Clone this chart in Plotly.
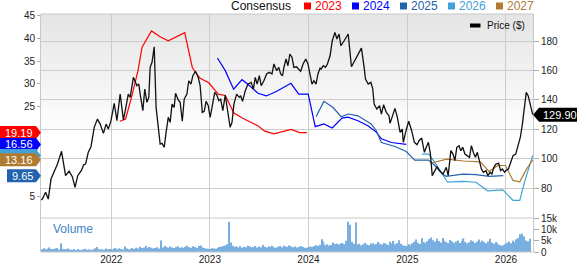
import plotly.graph_objects as go
import pandas as pd

# ---------------- data ----------------
price_dates = [
    "2021-04-17", "2021-04-21", "2021-05-03", "2021-05-13", "2021-05-23", "2021-06-04", "2021-06-16",
    "2021-07-01", "2021-07-16", "2021-07-29", "2021-08-10", "2021-08-20", "2021-08-30", "2021-09-13",
    "2021-09-21", "2021-09-28", "2021-10-08", "2021-10-18", "2021-10-30", "2021-11-11", "2021-11-21",
    "2021-12-03", "2021-12-13", "2021-12-21", "2021-12-31", "2022-01-12", "2022-01-22", "2022-02-03",
    "2022-02-15", "2022-02-23", "2022-03-05", "2022-03-12", "2022-03-24", "2022-04-06", "2022-04-13",
    "2022-04-18", "2022-04-28", "2022-05-05", "2022-05-13", "2022-05-20", "2022-05-25", "2022-06-01",
    "2022-06-09", "2022-06-16", "2022-06-24", "2022-07-01", "2022-07-08", "2022-07-16", "2022-07-23",
    "2022-07-31", "2022-08-07", "2022-08-14", "2022-08-22", "2022-08-27", "2022-09-06", "2022-09-13",
    "2022-09-21", "2022-09-28", "2022-10-08", "2022-10-15", "2022-10-23", "2022-10-30", "2022-11-09",
    "2022-11-19", "2022-11-26", "2022-12-04", "2022-12-11", "2022-12-18", "2022-12-26", "2023-01-02",
    "2023-01-09", "2023-01-19", "2023-01-27", "2023-02-03", "2023-02-10", "2023-02-18", "2023-02-27",
    "2023-03-07", "2023-03-17", "2023-03-24", "2023-03-31", "2023-04-10", "2023-04-20", "2023-04-25",
    "2023-05-02", "2023-05-12", "2023-05-22", "2023-06-03", "2023-06-11", "2023-06-18", "2023-06-25",
    "2023-07-03", "2023-07-10", "2023-07-20", "2023-07-30", "2023-08-09", "2023-08-19", "2023-08-26",
    "2023-09-05", "2023-09-13", "2023-09-20", "2023-09-27", "2023-10-02", "2023-10-10", "2023-10-17",
    "2023-10-24", "2023-11-01", "2023-11-08", "2023-11-18", "2023-11-25", "2023-12-03", "2023-12-12",
    "2023-12-22", "2023-12-30", "2024-01-06", "2024-01-14", "2024-01-21", "2024-01-29", "2024-02-05",
    "2024-02-13", "2024-02-17", "2024-02-25", "2024-03-04", "2024-03-11", "2024-03-21", "2024-03-29",
    "2024-04-08", "2024-04-15", "2024-04-23", "2024-04-30", "2024-05-12", "2024-05-27", "2024-06-08",
    "2024-06-23", "2024-07-05", "2024-07-15", "2024-07-25", "2024-07-30", "2024-08-09", "2024-08-19",
    "2024-08-26", "2024-08-31", "2024-09-10", "2024-09-20", "2024-09-27", "2024-10-05", "2024-10-15",
    "2024-10-25", "2024-10-29", "2024-11-08", "2024-11-16", "2024-11-25", "2024-12-05", "2024-12-13",
    "2024-12-17", "2024-12-27", "2025-01-06", "2025-01-17", "2025-01-27", "2025-02-06", "2025-02-13",
    "2025-02-23", "2025-03-05", "2025-03-12", "2025-03-20", "2025-03-27", "2025-04-03", "2025-04-13",
    "2025-04-20", "2025-04-30", "2025-05-13", "2025-05-25", "2025-06-01", "2025-06-11", "2025-06-19",
    "2025-06-26", "2025-07-03", "2025-07-11", "2025-07-18", "2025-07-25", "2025-08-02", "2025-08-19",
    "2025-08-26", "2025-09-02", "2025-09-10", "2025-09-17", "2025-09-24", "2025-10-02", "2025-10-09",
    "2025-10-19", "2025-10-26", "2025-11-03", "2025-11-10", "2025-11-17", "2025-11-25", "2025-12-05",
    "2025-12-12", "2025-12-19", "2025-12-27", "2026-01-03", "2026-01-10", "2026-01-19", "2026-01-27",
    "2026-02-06", "2026-02-13", "2026-02-23", "2026-03-02", "2026-03-09", "2026-03-17", "2026-03-24",
    "2026-04-03", "2026-04-10",
]
price_values = [
    71.8, 72.5, 77.1, 72.5, 86.1, 90.7, 96.3,
    105.0, 88.4, 91.4, 87.7, 80.5, 88.4, 92.2,
    95.8, 96.3, 104.3, 108.1, 121.3, 126.9, 123.5,
    117.2, 123.5, 120.1, 125.8, 137.6, 125.8, 143.9,
    126.3, 133.7, 143.9, 141.7, 155.3, 149.6, 150.7,
    143.9, 132.6, 147.3, 138.3, 141.7, 162.1, 165.5,
    176.1, 134.9, 123.5, 109.9, 110.4, 107.7, 117.9,
    128.1, 124.7, 137.1, 134.9, 144.4, 139.9, 138.3,
    125.4, 140.5, 143.9, 153.0, 150.7, 156.4, 159.4,
    155.3, 149.6, 131.5, 132.2, 139.0, 136.0, 128.1,
    134.9, 145.1, 143.3, 139.4, 140.5, 132.6, 143.3,
    132.6, 121.3, 124.7, 137.1, 143.9, 141.7, 142.8,
    139.0, 146.2, 150.7, 151.9, 147.3, 155.3, 150.7,
    156.4, 149.6, 153.0, 157.6, 158.7, 157.6, 164.4,
    159.8, 162.1, 157.6, 156.4, 162.1, 167.8, 163.2,
    171.2, 168.9, 162.1, 162.5, 161.0, 159.4, 164.4,
    167.8, 164.4, 157.6, 150.7, 153.0, 150.7, 157.6,
    161.6, 161.0, 163.2, 162.1, 164.4, 170.0, 180.2,
    185.9, 181.4, 184.8, 176.8, 180.2, 184.8, 162.5,
    167.8, 172.3, 175.2, 162.1, 154.1, 150.7, 151.9,
    147.3, 137.1, 133.7, 136.0, 130.3, 136.7, 131.5,
    129.2, 124.0, 130.3, 134.2, 128.1, 117.9, 120.1,
    111.1, 119.0, 125.4, 119.0, 111.1, 109.5, 112.2,
    114.0, 104.3, 107.7, 111.1, 103.6, 88.4, 91.8,
    94.5, 91.8, 89.5, 94.1, 88.4, 105.4, 103.1,
    98.6, 107.7, 108.8, 105.4, 107.7, 103.1, 100.9,
    108.8, 104.3, 100.9, 104.3, 98.6, 92.9, 90.7,
    91.8, 88.4, 90.7, 89.5, 94.1, 96.3, 96.8,
    91.8, 92.9, 90.7, 92.2, 92.9, 98.6, 102.0,
    103.1, 107.7, 114.5, 122.4, 134.9, 145.1, 142.8,
    134.9, 129.90,
]

c2023_dates = ["2022-02-02", "2022-02-23", "2022-03-17", "2022-04-10", "2022-04-25", "2022-05-30",
               "2022-07-01", "2022-07-31", "2022-09-30", "2022-10-28", "2022-11-08", "2022-11-26",
               "2022-12-28", "2023-02-01", "2023-02-27", "2023-03-31", "2023-05-01", "2023-05-22",
               "2023-06-28", "2023-07-23", "2023-08-26", "2023-10-29", "2023-11-29", "2023-12-26"]
c2023_values = [21.7, 22.2, 27.0, 32.9, 38.1, 41.7, 40.4, 39.5, 41.3, 33.6, 32.6, 31.2,
                30.2, 27.7, 27.4, 23.5, 22.4, 21.8, 20.7, 19.5, 18.9, 19.9, 19.2, 19.19]

c2024_dates = ["2023-01-29", "2023-02-27", "2023-03-30", "2023-04-30", "2023-05-22", "2023-06-28",
               "2023-07-29", "2023-09-04", "2023-10-28", "2023-11-26", "2023-12-31", "2024-01-26",
               "2024-02-27", "2024-03-29", "2024-05-04", "2024-05-26", "2024-07-02", "2024-08-08",
               "2024-09-08", "2024-09-27", "2024-11-03", "2024-12-04", "2024-12-28"]
c2024_values = [35.7, 32.9, 28.8, 30.9, 29.9, 27.9, 27.3, 28.3, 30.1, 27.7, 27.7, 20.5,
                21.1, 20.2, 22.4, 22.6, 21.8, 20.7, 19.3, 17.8, 17.0, 16.7, 16.56]

c2025_dates = ["2024-01-29", "2024-02-27", "2024-03-31", "2024-05-01", "2024-05-27", "2024-07-02",
               "2024-08-20", "2024-09-08", "2024-09-27", "2024-11-16", "2024-12-28", "2025-01-28",
               "2025-03-20", "2025-04-13", "2025-05-10", "2025-05-25", "2025-07-25", "2025-09-12",
               "2025-10-31", "2025-12-22"]
c2025_values = [22.7, 26.1, 24.8, 22.7, 23.3, 22.9, 21.1, 19.6, 17.0, 16.1, 15.0, 13.1,
                13.1, 11.9, 10.0, 9.5, 10.0, 9.9, 9.5, 9.65]

c2026_dates = ["2025-02-24", "2025-03-21", "2025-04-17", "2025-05-30", "2025-07-25", "2025-09-12",
               "2025-10-25", "2025-12-20", "2026-01-27", "2026-02-21", "2026-03-12", "2026-04-10"]
c2026_values = [14.4, 14.4, 12.2, 8.2, 8.4, 8.2, 6.3, 6.5, 4.2, 4.2, 8.5, 14.13]

c2027_dates = ["2025-03-27", "2025-05-27", "2025-07-28", "2025-09-28", "2025-10-30", "2025-12-03",
               "2025-12-30", "2026-01-27", "2026-02-21", "2026-03-18", "2026-04-10"]
c2027_values = [12.4, 13.3, 12.9, 12.7, 10.6, 11.9, 11.9, 8.6, 8.3, 11.1, 13.16]

# weekly volume (thousands), first week starting 2021-04-19
volume_start = "2021-04-19"
volume_k = [
    1.2, 1.6, 1.1, 1.4, 2.0, 1.3, 1.2, 1.5, 1.8, 1.1, 3.9,
    1.4, 1.2, 1.3, 1.5, 1.1, 1.0, 1.3, 0.9, 1.2, 1.0, 0.8, 1.1, 1.4,
    1.0, 1.2, 0.9, 1.1, 1.6, 2.2, 1.3, 1.1, 1.2, 1.0, 1.5, 1.2, 1.3,
    1.1, 1.4, 1.8, 1.2, 1.6, 1.3, 1.1, 2.4, 1.5, 1.2, 1.4, 1.7, 1.3,
    1.9, 1.5, 2.3, 1.8, 2.0, 2.6, 1.7, 2.2, 1.9, 1.6, 1.8, 2.1, 1.5,
    5.1, 2.0, 2.8, 2.2, 1.9, 2.4, 2.0, 1.8, 2.2, 2.5, 1.9, 2.1, 1.7,
    2.3, 2.8, 2.1, 1.9, 2.5, 2.2, 1.8, 2.6, 2.9, 2.0, 1.8, 1.5, 1.4,
    1.3, 1.6, 1.5, 1.4, 1.8, 2.2, 2.4, 2.6, 2.9, 3.4, 13.4, 4.2, 2.8,
    2.2, 2.5, 2.0, 2.6, 1.9, 2.3, 2.1, 2.8, 2.4, 2.0, 2.2, 2.6, 1.9,
    2.4, 2.1, 3.1, 2.3, 2.0, 2.5, 2.2, 2.7, 2.0, 1.9, 2.3, 2.6, 2.1,
    2.8, 2.4, 2.2, 2.9, 2.5, 2.1, 2.4, 2.0, 2.3, 2.7, 2.2, 1.9, 1.8,
    2.0, 2.4, 2.2, 2.6, 3.0, 2.8, 3.2, 5.6, 4.6, 3.0, 3.4, 2.9, 3.1,
    4.2, 3.5, 3.8, 3.2, 3.6, 4.0, 3.4, 5.0, 13.3, 12.0, 4.5, 3.6, 13.0,
    3.2, 3.6, 2.9, 3.4, 4.1, 3.3, 3.0, 3.7, 3.9, 3.2, 3.5, 4.4, 3.6,
    3.3, 4.0, 3.6, 3.1, 4.5, 3.8, 4.9, 3.4, 3.9, 5.2, 3.6, 3.0, 2.6,
    2.8, 3.4, 3.0, 3.8, 4.5, 5.5, 4.1, 3.5, 6.1, 4.4, 3.9, 4.8, 5.7,
    6.4, 5.2, 4.6, 5.9, 4.8, 4.2, 6.2, 5.0, 4.4, 3.9, 5.3, 4.7, 4.1,
    4.6, 5.1, 4.0, 4.8, 6.0, 4.5, 3.8, 4.3, 5.2, 4.7, 4.0, 4.6, 5.5,
    4.3, 5.0, 4.4, 3.9, 4.6, 5.8, 4.2, 3.6, 4.4, 3.8, 3.2, 2.8, 3.0,
    3.4, 4.1, 4.6, 3.9, 5.0, 4.4, 5.6, 6.2, 7.8, 8.0, 6.9, 5.1, 4.6,
    5.8,
]
volume_dates = pd.date_range(volume_start, periods=len(volume_k), freq="7D")

left_ticks = [5, 25, 30, 35, 40, 45]
right_ticks = [80, 100, 120, 140, 160, 180]
vol_ticks = [0, 5, 10, 15]
vol_tick_text = ["0", "5k", "10k", "15k"]

legend_years = ["2023", "2024", "2025", "2026", "2027"]
last_price = 129.90
last_consensus = [("2023", 19.19), ("2024", 16.56), ("2026", 14.13), ("2025", 9.65), ("2027", 13.16)]

# ---------------- styles ----------------
COL = {"2023": "#ff0000", "2024": "#0000ff", "2025": "#2262ae",
       "2026": "#40a2d8", "2027": "#b07a32"}
FONT = "Liberation Sans, Arial, sans-serif"
W, H = 579, 264
ML, MR, MT, MB = 41, 46, 14, 12
PW, PH = W - ML - MR, H - MT - MB


def fx(px):
    return (px - ML) / PW


def fy(py):
    return (H - MB - py) / PH


SPLIT = fy(218)

fig = go.Figure()

fig.add_trace(go.Bar(x=volume_dates, y=volume_k, xaxis="x", yaxis="y3",
                     marker=dict(color="#6aa7dd", line=dict(width=0)), opacity=0.9,
                     hoverinfo="skip"))

for yr, d, v in [("2023", c2023_dates, c2023_values), ("2024", c2024_dates, c2024_values),
                 ("2025", c2025_dates, c2025_values), ("2026", c2026_dates, c2026_values),
                 ("2027", c2027_dates, c2027_values)]:
    fig.add_trace(go.Scatter(x=d, y=v, mode="lines", xaxis="x", yaxis="y",
                             line=dict(color=COL[yr], width=1.2)))

fig.add_trace(go.Scatter(x=price_dates, y=price_values, mode="lines", xaxis="x", yaxis="y2",
                         line=dict(color="#111111", width=1.3)))

shapes = []
# gradient background in upper part
n = 24
for i in range(n):
    g = int(round(229 + (255 - 229) * i / n))
    shapes.append(dict(type="rect", xref="paper", yref="paper", x0=0, x1=1,
                       y0=fy(14 + 5 * (i + 1)), y1=fy(14 + 5 * i),
                       fillcolor=f"rgb({g},{g},{g})", line=dict(width=0), layer="below"))
# frame lines
for py in (14, 218, H - MB):
    shapes.append(dict(type="line", xref="paper", yref="paper", x0=0, x1=1, y0=fy(py), y1=fy(py),
                       line=dict(color="#c8c8c8", width=1)))

# left consensus badges
annotations = []
for yr, val in last_consensus:
    lab = f"{val:.2f}"
    w = 41 if len(lab) >= 5 else 34
    shapes.append(dict(type="path", xref="paper", yref="y", xsizemode="pixel", ysizemode="pixel",
                       xanchor=0, yanchor=val,
                       path=f"M {-w},-6.5 L -5,-6.5 L 0,0 L -5,6.5 L {-w},6.5 Z",
                       fillcolor=COL[yr], line=dict(width=0), layer="above"))
    if yr != "2026":
        annotations.append(dict(x=fx(35), y=val, xref="paper", yref="y", xanchor="right",
                                yanchor="middle", text=lab, showarrow=False,
                                font=dict(family=FONT, size=11, color="white")))

# right price badge
shapes.append(dict(type="path", xref="paper", yref="y2", xsizemode="pixel", ysizemode="pixel",
                   xanchor=1, yanchor=last_price,
                   path="M 0,0 L 6,-7 L 44,-7 L 44,7 L 6,7 Z",
                   fillcolor="#000000", line=dict(width=0), layer="above"))
annotations.append(dict(x=fx(560), y=last_price, xref="paper", yref="y2", xanchor="center",
                        yanchor="middle", text=f"{last_price:.2f}", showarrow=False,
                        font=dict(family=FONT, size=11, color="white")))

# top legend
annotations.append(dict(x=fx(229), y=fy(6), xref="paper", yref="paper", xanchor="left",
                        yanchor="middle", text="Consensus", showarrow=False,
                        font=dict(family=FONT, size=12, color="#111111")))
for i, yr in enumerate(legend_years):
    sx = 304 + 48 * i
    shapes.append(dict(type="rect", xref="paper", yref="paper", x0=fx(sx), x1=fx(sx + 7),
                       y0=fy(9.5), y1=fy(2.5), fillcolor=COL[yr], line=dict(width=0)))
    annotations.append(dict(x=fx(sx + 9), y=fy(6), xref="paper", yref="paper", xanchor="left",
                            yanchor="middle", text=yr, showarrow=False,
                            font=dict(family=FONT, size=12, color=COL[yr])))

# price legend
shapes.append(dict(type="rect", xref="paper", yref="paper", x0=fx(470), x1=fx(480.5),
                   y0=fy(27.5), y1=fy(23.5), fillcolor="#000000", line=dict(width=0)))
annotations.append(dict(x=fx(485), y=fy(25.8), xref="paper", yref="paper", xanchor="left",
                        yanchor="middle", text="Price ($)", showarrow=False,
                        font=dict(family=FONT, size=10, color="#111111")))
# volume label
annotations.append(dict(x=fx(51), y=fy(229.3), xref="paper", yref="paper", xanchor="left",
                        yanchor="middle", text="Volume", showarrow=False,
                        font=dict(family=FONT, size=12, color="#3d85c6")))

tickfont = dict(family=FONT, size=10, color="#222222")
fig.update_layout(
    template="none",
    width=W, height=H,
    margin=dict(l=ML, r=MR, t=MT, b=MB, pad=0),
    paper_bgcolor="white", plot_bgcolor="white",
    showlegend=False, bargap=0.3,
    font=dict(family=FONT),
    xaxis=dict(domain=[0, 1], anchor="y3", type="date",
               range=["2021-04-16", "2026-04-11"],
               tick0="2022-01-01", dtick="M12", tickformat="%Y",
               showgrid=True, gridcolor="#cccccc", gridwidth=1,
               ticks="", showline=False, zeroline=False, tickfont=tickfont,
               automargin=False),
    yaxis=dict(domain=[SPLIT, 1], range=[0.28, 45.44], side="left",
               tickmode="array", tickvals=left_ticks,
               showgrid=False, zeroline=False, showline=True, linecolor="#c8c8c8",
               ticks="outside", ticklen=3, tickcolor="#aaaaaa", tickfont=tickfont,
               automargin=False),
    yaxis2=dict(overlaying="y", side="right", range=[59.6, 198.4],
                tickmode="array", tickvals=right_ticks,
                showgrid=True, gridcolor="#cccccc", gridwidth=1, zeroline=False,
                showline=True, linecolor="#c8c8c8",
                ticks="outside", ticklen=5, tickcolor="#aaaaaa", tickfont=tickfont,
                automargin=False),
    yaxis3=dict(domain=[0, SPLIT], anchor="x", side="right", range=[0, 15],
                tickmode="array", tickvals=vol_ticks, ticktext=vol_tick_text,
                showgrid=False, zeroline=False, showline=True, mirror=True,
                linecolor="#c8c8c8", ticks="outside", ticklen=5, tickcolor="#aaaaaa",
                tickfont=tickfont, automargin=False),
    shapes=shapes,
    annotations=annotations,
)

fig.write_html("out.html")
